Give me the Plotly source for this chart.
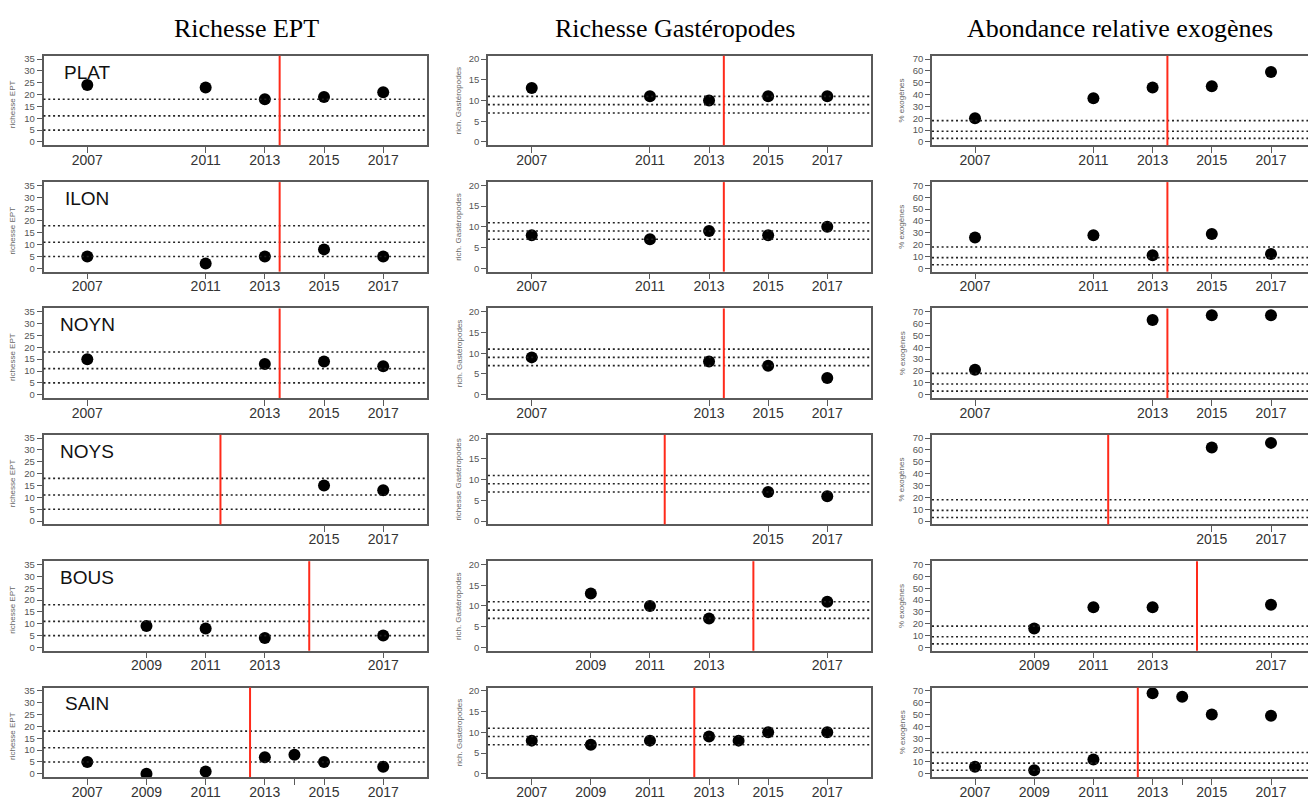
import plotly.graph_objects as go

# ---------------- data ----------------
sites = ["PLAT", "ILON", "NOYN", "NOYS", "BOUS", "SAIN"]
site_years = [
    [2007, 2011, 2013, 2015, 2017],
    [2007, 2011, 2013, 2015, 2017],
    [2007, 2013, 2015, 2017],
    [2015, 2017],
    [2009, 2011, 2013, 2017],
    [2007, 2009, 2011, 2013, 2014, 2015, 2017],
]
ept_values = [
    [24, 23, 18, 19, 21],
    [5, 2, 5, 8, 5],
    [15, 13, 14, 12],
    [15, 13],
    [9, 8, 4, 5],
    [5, 0, 1, 7, 8, 5, 3],
]
gast_values = [
    [13, 11, 10, 11, 11],
    [8, 7, 9, 8, 10],
    [9, 8, 7, 4],
    [7, 6],
    [13, 10, 7, 11],
    [8, 7, 8, 9, 8, 10, 10],
]
exo_values = [
    [20, 37, 46, 47, 59],
    [26, 28, 11, 29, 12],
    [21, 63, 67, 67],
    [62, 66],
    [16, 34, 34, 36],
    [6, 3, 12, 68, 65, 50, 49],
]
event_years = [2013.5, 2013.5, 2013.5, 2011.5, 2014.5, 2012.5]
unlabelled_years = [2014]

ept_refs = [5, 11, 18]
gast_refs = [7, 9, 11]
exo_refs = [3, 9, 18]

column_titles = ["Richesse EPT", "Richesse Gastéropodes", "Abondance relative exogènes"]
ept_ylabel = "richesse EPT"
gast_ylabels = ["rich. Gastéropodes", "rich. Gastéropodes", "rich. Gastéropodes",
                "richesse Gastéropodes", "rich. Gastéropodes", "rich. Gastéropodes"]
exo_ylabel = "% exogènes"

ept_yticks = [0, 5, 10, 15, 20, 25, 30, 35]
gast_yticks = [0, 5, 10, 15, 20]
exo_yticks = [0, 10, 20, 30, 40, 50, 60, 70]

# ---------------- layout geometry ----------------
W, H = 1308, 800
col_px = [(43.5, 427.0), (488.0, 871.0), (932.0, 1308.0)]
col_xrange = [[2005.52, 2018.48], [2005.52, 2018.48], [2005.547, 2018.25]]
col_yrange = [[-1.4, 36.4], [-0.8, 20.8], [-2.8, 72.8]]
row_tops = [54, 181, 308, 435, 562, 689]
panel_h = 90
title_x_px = [246, 675, 1120]
ylab_x_px = [12.7, 459, 902]
ylab_dy = [4, 0, 0]

SANS = "Liberation Sans, Arial, Helvetica, sans-serif"
SERIF = "Liberation Serif, Times New Roman, serif"
BOX = "#5a5a5a"

fig = go.Figure()
layout = dict(
    width=W, height=H, autosize=False,
    margin=dict(l=0, r=0, t=0, b=0, pad=0),
    paper_bgcolor="white", plot_bgcolor="white",
    showlegend=False,
)
shapes = []
annotations = []

col_values = [ept_values, gast_values, exo_values]
col_refs = [ept_refs, gast_refs, exo_refs]
col_yticks = [ept_yticks, gast_yticks, exo_yticks]

for r, site in enumerate(sites):
    top = row_tops[r]
    ydom = [1 - (top + panel_h) / H, 1 - top / H]
    yrs = site_years[r]
    ticktext = ["" if y in unlabelled_years else str(y) for y in yrs]
    for c in range(3):
        k = r * 3 + c + 1
        xa = "xaxis" if k == 1 else f"xaxis{k}"
        ya = "yaxis" if k == 1 else f"yaxis{k}"
        xr = "x" if k == 1 else f"x{k}"
        yr = "y" if k == 1 else f"y{k}"
        x0, x1 = col_px[c]
        layout[xa] = dict(
            domain=[x0 / W, x1 / W], anchor=yr, range=col_xrange[c],
            showgrid=False, zeroline=False, showline=True, mirror=True,
            linecolor=BOX, linewidth=1.5,
            ticks="outside", ticklen=6, tickwidth=1, tickcolor=BOX,
            tickmode="array", tickvals=yrs, ticktext=ticktext,
            ticklabelstandoff=-5,
            tickfont=dict(family=SANS, size=14, color="#333333"),
            fixedrange=True,
        )
        layout[ya] = dict(
            domain=ydom, anchor=xr, range=col_yrange[c],
            showgrid=False, zeroline=False, showline=True, mirror=(c != 2),
            linecolor=BOX, linewidth=1.5,
            ticks="outside", ticklen=5, tickwidth=1, tickcolor=BOX,
            tickmode="array", tickvals=col_yticks[c],
            tickfont=dict(family=SANS, size=9.5, color="#555555"),
            fixedrange=True,
        )
        # reference dotted lines
        for v in col_refs[c]:
            shapes.append(dict(type="line", xref=f"{xr} domain", yref=yr,
                               x0=0, x1=1, y0=v, y1=v,
                               line=dict(color="#222222", width=1.6, dash="2px,2.8px"),
                               layer="above"))
        # red event line
        ev = event_years[r]
        shapes.append(dict(type="line", xref=xr, yref=f"{yr} domain",
                           x0=ev, x1=ev, y0=0, y1=1,
                           line=dict(color="#ff2a1a", width=2), layer="above"))
        # points
        fig.add_trace(go.Scatter(
            x=yrs, y=col_values[c][r], mode="markers", xaxis=xr, yaxis=yr,
            marker=dict(color="black", size=12, line=dict(width=0)),
            hoverinfo="x+y",
        ))
        # y labels
        if c == 0:
            lab = ept_ylabel
        elif c == 1:
            lab = gast_ylabels[r]
        else:
            lab = exo_ylabel
        annotations.append(dict(
            text=lab, xref="paper", yref="paper",
            x=ylab_x_px[c] / W, y=1 - (top + panel_h / 2 + ylab_dy[c]) / H,
            textangle=-90, showarrow=False, xanchor="center", yanchor="middle",
            font=dict(family=SANS, size=8, color="#666666"),
        ))
    # site label in first column
    annotations.append(dict(
        text=site, xref="x" if r == 0 else f"x{r*3+1}", yref="y" if r == 0 else f"y{r*3+1}",
        x=2007, y=29.5, showarrow=False, xanchor="center", yanchor="middle",
        font=dict(family=SANS, size=19, color="#111111"),
    ))

for c, t in enumerate(column_titles):
    annotations.append(dict(
        text=t, xref="paper", yref="paper", x=title_x_px[c] / W, y=1 - 27 / H,
        showarrow=False, xanchor="center", yanchor="middle",
        font=dict(family=SERIF, size=26, color="black"),
    ))

layout["shapes"] = shapes
layout["annotations"] = annotations
fig.update_layout(**layout)
fig.write_html(
    "out.html",
    config={"displayModeBar": False},
    post_script="document.body.style.margin='0';document.body.style.overflow='hidden';",
)
